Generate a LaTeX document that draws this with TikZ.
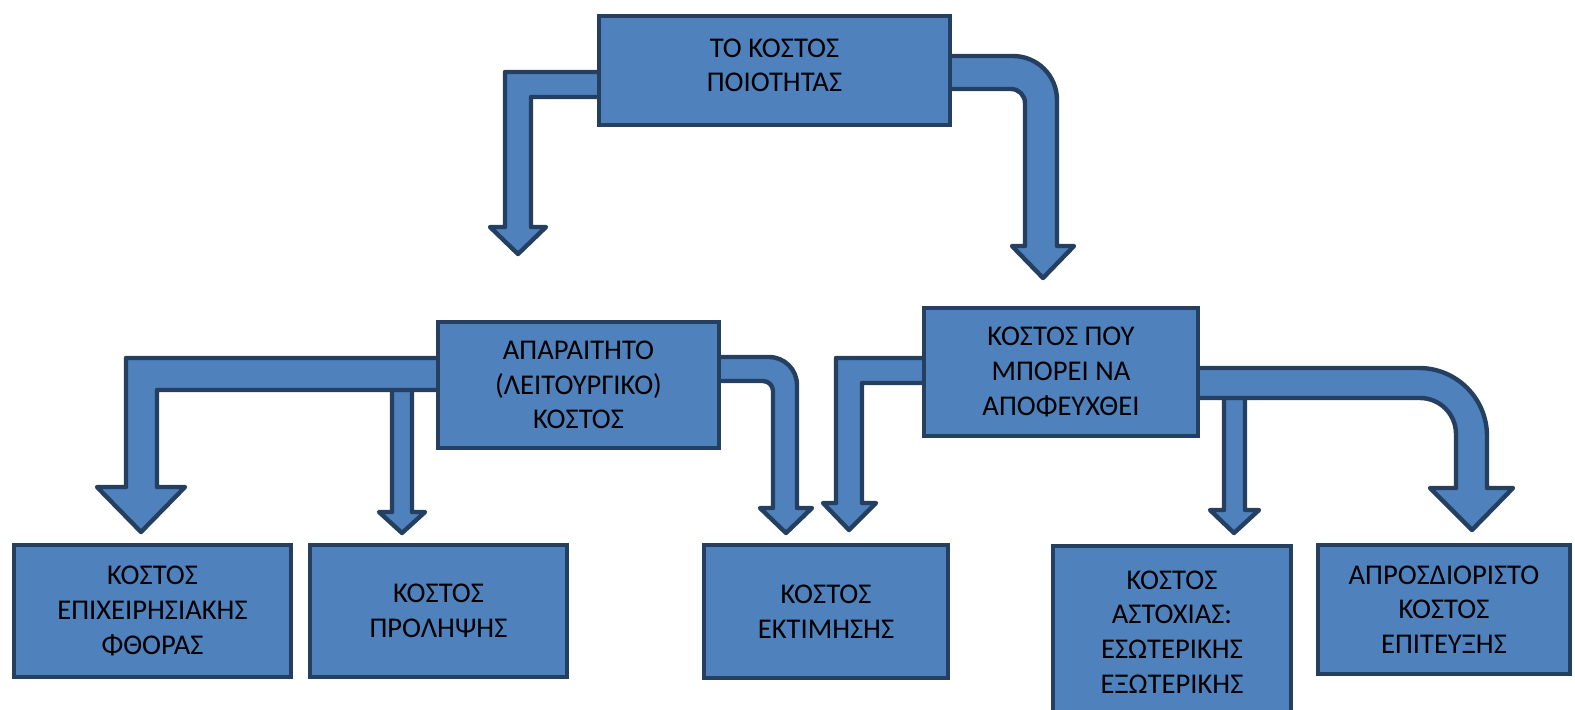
\documentclass[tikz,border=0pt]{standalone}
\usepackage{fontspec}
\setmainfont{Carlito}
\usetikzlibrary{backgrounds}
\definecolor{qcblue}{RGB}{79,129,189}
\definecolor{qcnavy}{RGB}{36,63,96}

\begin{document}
\begin{tikzpicture}[x=0.5pt,y=-0.5pt,
    every node/.style={font=\fontsize{14.3pt}{17.3pt}\selectfont},
    costbox/.style={draw=qcnavy,line width=2pt,fill=qcblue,
                    inner sep=0pt,align=center},
    flowarrow/.style={draw=qcnavy,line width=2.2pt,fill=qcblue,line join=round}]
  \useasboundingbox (0,0) rectangle (1575,709);
  % boxes
  \node[costbox,minimum width=175.5pt,minimum height=54.5pt] (top) at (774.5,70.5)
        {ΤΟ ΚΟΣΤΟΣ\\ΠΟΙΟΤΗΤΑΣ\strut};
  \node[costbox,minimum width=140.5pt,minimum height=63pt] (need) at (578.5,385)
        {ΑΠΑΡΑΙΤΗΤΟ\\(ΛΕΙΤΟΥΡΓΙΚΟ)\\ΚΟΣΤΟΣ};
  \node[costbox,minimum width=137pt,minimum height=64pt] (avoid) at (1061,372)
        {ΚΟΣΤΟΣ ΠΟΥ\\ΜΠΟΡΕΙ ΝΑ\\ΑΠΟΦΕΥΧΘΕΙ};
  \node[costbox,minimum width=138.5pt,minimum height=66pt] (wear) at (152.5,611)
        {ΚΟΣΤΟΣ\\ΕΠΙΧΕΙΡΗΣΙΑΚΗΣ\\ΦΘΟΡΑΣ};
  \node[costbox,minimum width=128.5pt,minimum height=66pt] (prev) at (438.5,611)
        {ΚΟΣΤΟΣ\\ΠΡΟΛΗΨΗΣ};
  \node[costbox,minimum width=122pt,minimum height=66.5pt] (appr) at (826,611.5)
        {ΚΟΣΤΟΣ\\ΕΚΤΙΜΗΣΗΣ};
  \node[costbox,minimum width=119pt,minimum height=86pt] (fail) at (1172,632)
        {ΚΟΣΤΟΣ\\ΑΣΤΟΧΙΑΣ:\\ΕΣΩΤΕΡΙΚΗΣ\\ΕΞΩΤΕΡΙΚΗΣ};
  \node[costbox,minimum width=126pt,minimum height=64.5pt] (undef) at (1444,609.5)
        {ΑΠΡΟΣΔΙΟΡΙΣΤΟ\\ΚΟΣΤΟΣ\\ΕΠΙΤΕΥΞΗΣ};
  % block arrows behind the boxes
  \begin{scope}[on background layer]
    \draw[flowarrow] (top.center |- 0,72) -- (505,72) -- (505,227) -- (490,227)
      -- (518,254) -- (546,227) -- (531,227) -- (531,97) -- (top.center |- 0,97) -- cycle;
    \draw[flowarrow] (top.center |- 0,56) -- (1000,56) [rounded corners=22pt] -- (1057,56)
      [sharp corners] -- (1057,246) -- (1074,246) -- (1043,278) -- (1012,246)
      -- (1025,246) [rounded corners=7pt] -- (1025,89)
      [sharp corners] -- (top.center |- 0,89) -- cycle;
    \draw[flowarrow] (392,380) -- (392,512) -- (379,512) -- (402,533) -- (425,512)
      -- (412,512) -- (412,380) -- cycle;
    \draw[flowarrow] (need.center |- 0,358) -- (126,358) -- (126,487) -- (97,487)
      -- (141,532) -- (185,487) -- (157,487) -- (157,390) -- (need.center |- 0,390) -- cycle;
    \draw[flowarrow] (need.center |- 0,357) -- (760,357) [rounded corners=14pt] -- (797,357)
      [sharp corners] -- (797,508) -- (812,508) -- (786,533) -- (760,508)
      -- (773,508) [rounded corners=5pt] -- (773,381)
      [sharp corners] -- (need.center |- 0,381) -- cycle;
    \draw[flowarrow] (avoid.center |- 0,358) -- (836,358) -- (836,503) -- (823,503)
      -- (849,530) -- (876,503) -- (862,503) -- (862,383) -- (avoid.center |- 0,383) -- cycle;
    \draw[flowarrow] (1224,388) -- (1224,510) -- (1210,510) -- (1234,533) -- (1259,510)
      -- (1245,510) -- (1245,388) -- cycle;
    \draw[flowarrow] (avoid.center |- 0,368) -- (1400,368) [rounded corners=34pt] -- (1487,368)
      [sharp corners] -- (1487,488) -- (1513,488) -- (1472,530) -- (1430,488)
      -- (1456,488) [rounded corners=18pt] -- (1456,398)
      [sharp corners] -- (avoid.center |- 0,398) -- cycle;
  \end{scope}
\end{tikzpicture}
\end{document}
